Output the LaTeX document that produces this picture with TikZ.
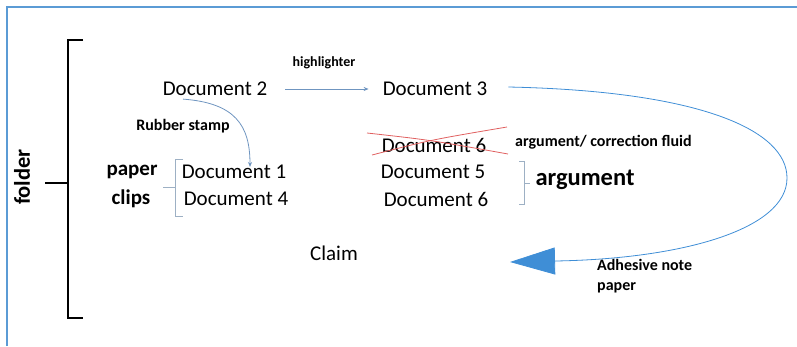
\documentclass[tikz,border=0pt]{standalone}
\usepackage{fontspec}
\setmainfont{Carlito}
\usetikzlibrary{arrows.meta}
\definecolor{frameblue}{HTML}{5B9BD5}
\definecolor{linkblue}{HTML}{6F95C0}
\definecolor{tipblue}{HTML}{3F8ED6}
\definecolor{bracegray}{HTML}{9DB0C4}
\definecolor{strikered}{HTML}{E06060}
\begin{document}
\begin{tikzpicture}[x=1pt,y=-1pt,
  doc/.style={font=\fontsize{21}{24}\selectfont, inner sep=0pt},
  bigbold/.style={font=\bfseries\fontsize{21}{24}\selectfont, inner sep=0pt},
  lbl/.style={font=\bfseries\fontsize{16}{19}\selectfont, inner sep=0pt},
  link/.style={draw=linkblue, line width=0.8pt},
  bracegray line/.style={draw=bracegray, line width=0.9pt},
  folderline/.style={draw=black, line width=1.4pt},
  strikeline/.style={draw=strikered, line width=0.8pt}]
\useasboundingbox (0,0) rectangle (797,346);
\draw[frameblue, line width=2pt] (6.5,346) -- (6.5,6.5) -- (797,6.5);

% folder bracket
\coordinate (ftop) at (83,40);
\coordinate (fbot) at (83,318);
\coordinate (fmid) at (45,183);
\draw[folderline] (ftop) -- (68,40) -- (68,318) -- (fbot);
\draw[folderline] (fmid) -- (68,183);
\node[font=\bfseries\fontsize{22.5}{26}\selectfont, inner sep=0pt, rotate=90] (folder) at (22,177) {folder};

% documents
\node[doc] (doc2) at (215,89) {Document 2};
\node[doc] (doc3) at (435,89) {Document 3};
\node[doc] (doc6x) at (434,145) {Document 6};
\node[doc] (doc5) at (433,172) {Document 5};
\node[doc] (doc6) at (436,199) {Document 6};
\node[doc] (doc1) at (234,172) {Document 1};
\node[doc] (doc4) at (236,199) {Document 4};
\node[doc] (claim) at (334,253) {Claim};

\node[bigbold] (paper) at (132,172) {paper};
\node[bigbold] (clips) at (131,199) {clips};
\node[font=\bfseries\fontsize{24.5}{28}\selectfont, inner sep=0pt] (argument) at (585,180) {argument};

\node[lbl, font=\bfseries\fontsize{14}{17}\selectfont] (highlighter) at (324,63) {highlighter};
\node[lbl] (rubber) at (183,126) {Rubber stamp};
\node[lbl, anchor=west] (corr) at (515,142) {argument/ correction fluid};
\node[lbl, anchor=north west, align=left, font=\bfseries\fontsize{16}{20}\selectfont] (adhesive) at (597,259) {Adhesive note\\paper};

% connectors
\draw[link, -{Stealth[length=5pt,width=4pt]}] ([xshift=18pt]doc2.east) -- ([xshift=-14pt]doc3.west);
\draw[link, -{Stealth[length=5pt,width=4pt]}] ([xshift=-32pt,yshift=-3pt]doc2.south) .. controls (235,103) and (250,125) .. ([xshift=16pt,yshift=-2pt]doc1.north);

\coordinate (tip) at (510,262);
\draw[link, -{Triangle[length=45pt,width=27pt]}, tipblue]
  ([xshift=21pt,yshift=2pt]doc3.east) .. controls (700,91) and (787,130) .. (787,178)
  .. controls (787,230) and (680,259) .. (555,261) -- (tip);

% brackets
\draw[bracegray line] (183,159) -- (175,159) -- (175,216) -- (183,216);
\draw[bracegray line] (163,187) -- (175,187);
\draw[bracegray line] (519,161) -- (524,161) -- (524,204) -- (519,204);
\draw[bracegray line] (524,183) -- (530,183);

% strike-through
\draw[strikeline] (367,133) .. controls (430,140) .. (508,154);
\draw[strikeline] (372,155) .. controls (430,140) .. (507,127);
\end{tikzpicture}
\end{document}
